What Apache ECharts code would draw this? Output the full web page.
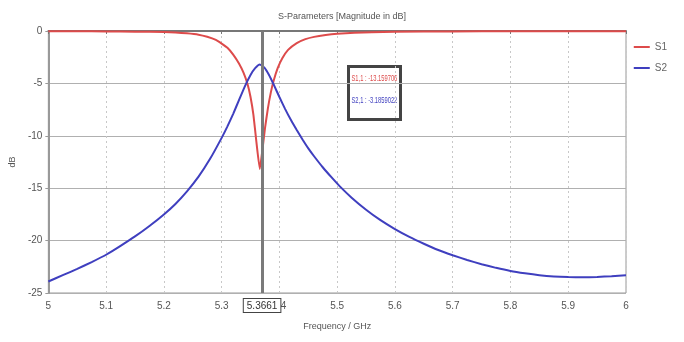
<!DOCTYPE html>
<html><head><meta charset="utf-8">
<script src="https://cdn.jsdelivr.net/npm/echarts@6/dist/echarts.min.js"></script>
<style>html,body{margin:0;padding:0;background:#fff}#c{width:684px;height:342px}</style>
</head><body><div id="c"></div>
<script>
const titleText = 'S-Parameters [Magnitude in dB]';
const xName = 'Frequency / GHz';
const yName = 'dB';
const xTickLabels = ['5','5.1','5.2','5.3','5.4','5.5','5.6','5.7','5.8','5.9','6'];
const yTickLabels = ['-25','-20','-15','-10','-5','0'];
const seriesNames = ['S1','S2'];

const s1Freq = [5.00,5.05,5.10,5.15,5.20,5.22,5.24,5.26,5.275,5.29,5.30,5.31,5.32,5.33,5.338,5.345,5.35,5.355,5.36,5.3661,5.37,5.375,5.38,5.385,5.39,5.397,5.405,5.415,5.43,5.445,5.46,5.48,5.50,5.53,5.56,5.60,5.70,5.80,5.90,6.00];
const s1dB   = [-0.02,-0.03,-0.04,-0.06,-0.10,-0.14,-0.22,-0.35,-0.55,-0.85,-1.2,-1.6,-2.25,-3.1,-4.0,-5.1,-6.3,-8.0,-10.5,-13.16,-11.6,-9.3,-7.4,-5.9,-4.75,-3.55,-2.6,-1.8,-1.15,-0.78,-0.56,-0.38,-0.26,-0.16,-0.11,-0.07,-0.04,-0.03,-0.02,-0.02];

const s2Freq = [5.00,5.025,5.05,5.075,5.10,5.125,5.15,5.175,5.20,5.22,5.24,5.26,5.28,5.30,5.31,5.32,5.33,5.34,5.35,5.358,5.3661,5.374,5.382,5.39,5.40,5.41,5.42,5.43,5.44,5.45,5.46,5.475,5.49,5.505,5.525,5.55,5.575,5.60,5.625,5.65,5.675,5.70,5.725,5.75,5.775,5.80,5.825,5.85,5.875,5.90,5.925,5.95,5.975,6.00];
const s2dB   = [-23.9,-23.3,-22.7,-22.05,-21.35,-20.5,-19.6,-18.6,-17.5,-16.5,-15.3,-13.9,-12.2,-10.2,-9.1,-7.9,-6.6,-5.3,-4.2,-3.55,-3.19,-3.5,-4.2,-5.1,-6.3,-7.45,-8.5,-9.45,-10.35,-11.2,-11.95,-13.0,-13.95,-14.85,-15.9,-17.05,-18.05,-18.9,-19.65,-20.3,-20.9,-21.4,-21.85,-22.25,-22.6,-22.9,-23.12,-23.3,-23.42,-23.48,-23.5,-23.47,-23.4,-23.3];

const markerFreq = 5.3661;
const markerLabel = '5.3661';
const markerTexts = ['S1,1 : -13.159706', 'S2,1 : -3.1859022'];

const colors = ['#dd4b4b', '#3f3fbf'];
const font = '"Liberation Sans"';

function pairs(xs, ys){ return xs.map((x,i)=>[x, ys[i]]); }

const chart = echarts.init(document.getElementById('c'));
chart.setOption({
  animation: false,
  textStyle: { fontFamily: font },
  title: { text: titleText, left: 'center', top: 7,
    textStyle: { fontSize: 9, fontWeight: 'normal', color: '#555', fontFamily: font } },
  legend: {
    orient: 'vertical', right: 12, top: 37, itemGap: 11,
    icon: 'rect', itemWidth: 16, itemHeight: 2,
    textStyle: { fontSize: 10, color: '#666', fontFamily: font },
    data: seriesNames
  },
  grid: { left: 47, right: 58, top: 31, bottom: 49, show: true, borderColor: '#999', borderWidth: 1 },
  xAxis: {
    type: 'value', min: 5, max: 6, interval: 0.1,
    name: xName, nameLocation: 'middle', nameGap: 29,
    nameTextStyle: { fontSize: 9, color: '#555', fontFamily: font },
    axisLine: { show: true, lineStyle: { color: '#777', width: 2 } },
    axisTick: { show: true, length: 3, lineStyle: { color: '#777' } },
    axisLabel: { fontSize: 10, color: '#555', margin: 8, fontFamily: font,
      formatter: (v) => xTickLabels[Math.round((v - 5) * 10)] },
    splitLine: { show: true, lineStyle: { color: '#c8c8c8', type: [2, 3], width: 1 } }
  },
  yAxis: {
    type: 'value', min: -25, max: 0, interval: 5,
    name: yName, nameLocation: 'middle', nameGap: 27, nameRotate: 90,
    nameTextStyle: { fontSize: 9, color: '#555', fontFamily: font },
    axisLine: { show: true, lineStyle: { color: '#999', width: 2 } },
    axisTick: { show: true, length: 3, lineStyle: { color: '#999' } },
    axisLabel: { fontSize: 10, color: '#555', margin: 6, fontFamily: font,
      formatter: (v) => yTickLabels[Math.round((v + 25) / 5)] },
    splitLine: { show: true, lineStyle: { color: '#b0b0b0', width: 1 } }
  },
  series: [
    { name: seriesNames[0], type: 'line', data: pairs(s1Freq, s1dB), showSymbol: false,
      smooth: 0.15, clip: false, color: colors[0], lineStyle: { width: 2, color: colors[0] },
      z: 3,
      markLine: {
        silent: true, symbol: 'none',
        lineStyle: { color: '#7a7a7a', width: 3, type: 'solid' },
        label: { show: true, position: 'start', distance: 6, formatter: markerLabel,
          fontSize: 10, color: '#333', backgroundColor: '#fff', fontFamily: font,
          borderColor: '#444', borderWidth: 1, padding: [2, 3, 1, 3] },
        data: [{ xAxis: markerFreq }]
      }
    },
    { name: seriesNames[1], type: 'line', data: pairs(s2Freq, s2dB), showSymbol: false,
      smooth: 0.15, color: colors[1], lineStyle: { width: 2, color: colors[1] }, z: 4 }
  ],
  graphic: [{
    type: 'group', left: 347, top: 65,
    children: [
      { type: 'rect', shape: { x: 0, y: 0, width: 52, height: 53 },
        style: { fill: '#fff', stroke: '#444', lineWidth: 3 } },
      { type: 'text', x: 3, y: 12, scaleX: 0.64,
        style: { text: markerTexts[0], fill: colors[0], font: '9px "Liberation Sans"', textVerticalAlign: 'middle' } },
      { type: 'text', x: 3, y: 34, scaleX: 0.64,
        style: { text: markerTexts[1], fill: colors[1], font: '9px "Liberation Sans"', textVerticalAlign: 'middle' } }
    ]
  }]
});
</script>
</body></html>
